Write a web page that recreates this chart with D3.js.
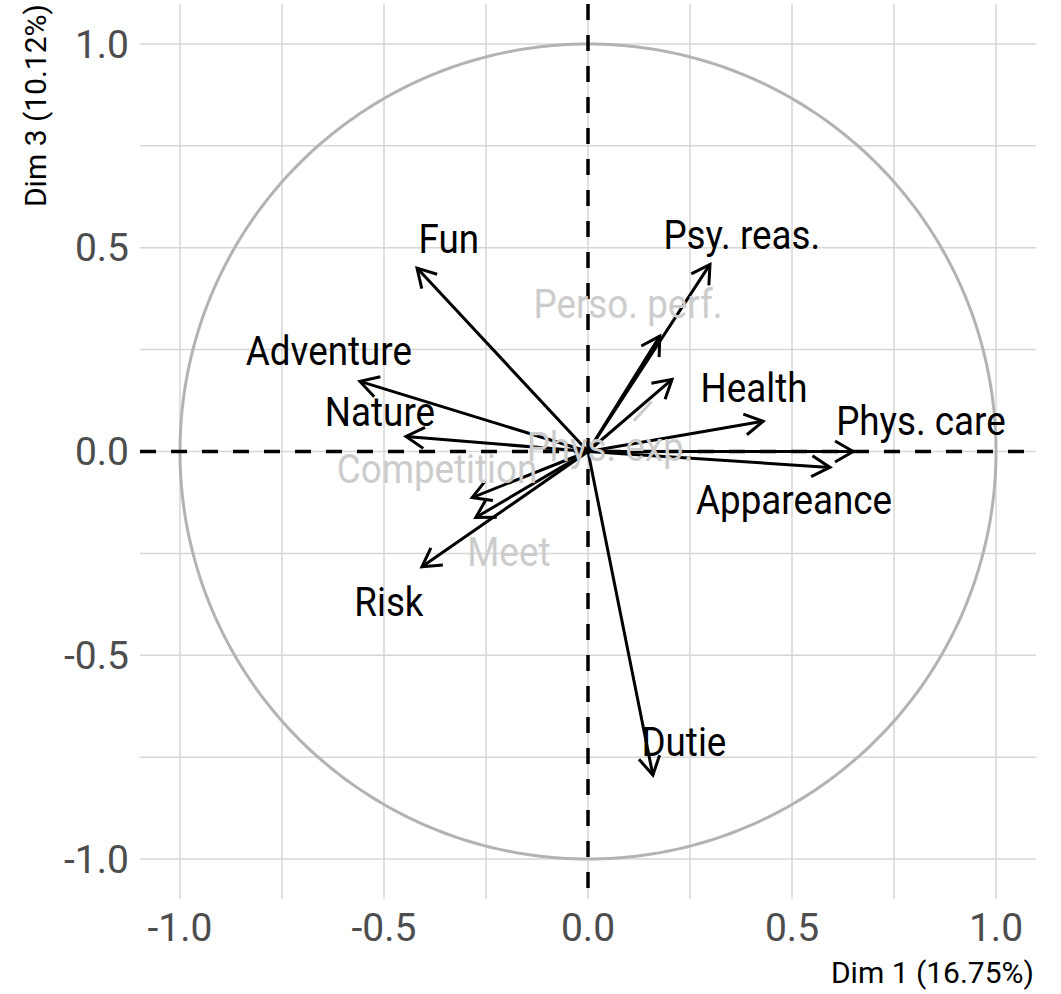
<!DOCTYPE html>
<html><head><meta charset="utf-8">
<script src="https://cdn.jsdelivr.net/npm/d3@7"></script>
<style>body{margin:0;background:#fff}svg{display:block}</style>
</head><body>
<script>
const variables = ["Fun","Psy. reas.","Perso. perf.","Health","Phys. care","Appareance","Adventure","Nature","Competition","Phys. exp.","Meet","Risk","Dutie"];
const dim1 = [-0.419, 0.299, 0.176, 0.429, 0.650, 0.593, -0.559, -0.446, -0.284, 0.206, -0.275, -0.407, 0.159];
const dim3 = [0.450, 0.459, 0.283, 0.074, 0.000, -0.039, 0.172, 0.037, -0.113, 0.177, -0.162, -0.283, -0.794];
const highlighted = [true, true, false, true, true, true, true, true, false, false, false, true, true];
const labelX = [-0.341, 0.377, 0.098, 0.407, 0.816, 0.505, -0.635, -0.510, -0.370, 0.054, -0.194, -0.488, 0.235];
const labelY = [0.521, 0.531, 0.361, 0.155, 0.076, -0.119, 0.246, 0.096, -0.042, 0.012, -0.246, -0.369, -0.713];
const labelSegment = [false,false,false,false,false,false,false,false,false,true,false,false,false];
const majorTicks = [-1.0, -0.5, 0.0, 0.5, 1.0];
const minorTicks = [-0.75, -0.25, 0.25, 0.75];
const xTitle = "Dim 1 (16.75%)";
const yTitle = "Dim 3 (10.12%)";

const W = 1061, H = 994;
const panel = {l: 140, r: 1036, t: 4, b: 899};
const lim = 1.098;
const x = d3.scaleLinear().domain([-lim, lim]).range([panel.l, panel.r]);
const y = d3.scaleLinear().domain([-lim, lim]).range([panel.b, panel.t]);

const svg = d3.select("body").append("svg").attr("width", W).attr("height", H);

// grid
const grid = svg.append("g");
const gridColor = "#d6d6d6";
majorTicks.concat(minorTicks).forEach(v => {
  grid.append("line").attr("x1", x(v)).attr("x2", x(v)).attr("y1", panel.t).attr("y2", panel.b)
    .attr("stroke", gridColor).attr("stroke-width", 1.5);
  grid.append("line").attr("y1", y(v)).attr("y2", y(v)).attr("x1", panel.l).attr("x2", panel.r)
    .attr("stroke", gridColor).attr("stroke-width", 1.5);
});

// circle
const circ = d3.range(0, 361).map(a => [Math.cos(a*Math.PI/180), Math.sin(a*Math.PI/180)]);
svg.append("path").attr("d", d3.line().x(d => x(d[0])).y(d => y(d[1]))(circ))
  .attr("fill", "none").attr("stroke", "#b3b3b3").attr("stroke-width", 3);

// dashed axes
svg.append("line").attr("x1", panel.l).attr("x2", panel.r).attr("y1", y(0)).attr("y2", y(0))
  .attr("stroke", "#000").attr("stroke-width", 3.5).attr("stroke-dasharray", "16,15");
svg.append("line").attr("y1", panel.t).attr("y2", panel.b).attr("x1", x(0)).attr("x2", x(0))
  .attr("stroke", "#000").attr("stroke-width", 3.5).attr("stroke-dasharray", "16,15");

// arrows
const arrows = svg.append("g");
const headLen = 21, headAng = Math.PI/6;
variables.forEach((v, i) => {
  const x0 = x(0), y0 = y(0), x1 = x(dim1[i]), y1 = y(dim3[i]);
  const ang = Math.atan2(y1 - y0, x1 - x0);
  arrows.append("line").attr("x1", x0).attr("y1", y0).attr("x2", x1).attr("y2", y1)
    .attr("stroke", "#000").attr("stroke-width", 3).attr("stroke-linecap", "butt");
  const a1 = [x1 - headLen*Math.cos(ang - headAng), y1 - headLen*Math.sin(ang - headAng)];
  const a2 = [x1 - headLen*Math.cos(ang + headAng), y1 - headLen*Math.sin(ang + headAng)];
  arrows.append("path").attr("d", `M${a1[0]},${a1[1]}L${x1},${y1}L${a2[0]},${a2[1]}`)
    .attr("fill", "none").attr("stroke", "#000").attr("stroke-width", 3)
    .attr("stroke-linejoin", "miter");
});

// labels
const labels = svg.append("g");
variables.forEach((v, i) => {
  const col = highlighted[i] ? "#000" : "#cccccc";
  const lx = x(labelX[i]), ly = y(labelY[i]);
  if (labelSegment[i]) {
    const tx = x(dim1[i]), ty = y(dim3[i]);
    const dx = tx - lx, dy = ty - ly, L = Math.hypot(dx, dy);
    const ux = dx / L, uy = dy / L;
    labels.append("line").attr("x1", lx + ux*35).attr("y1", ly + uy*35)
      .attr("x2", tx - ux*30).attr("y2", ty - uy*30)
      .attr("stroke", col).attr("stroke-width", 3);
  }
  labels.append("text")
    .attr("transform", `translate(${lx},${ly}) scale(0.92,1)`)
    .attr("text-anchor", "middle").attr("dy", "0.35em")
    .attr("font-family", "Roboto, sans-serif").attr("font-size", 40)
    .attr("fill", col).text(v);
});

// tick labels
const tickG = svg.append("g").attr("font-family", "Roboto, sans-serif").attr("font-size", 39).attr("fill", "#4d4d4d");
majorTicks.forEach(v => {
  tickG.append("text").attr("x", x(v)).attr("y", 941).attr("text-anchor", "middle")
    .text(d3.format(".1f")(v).replace("−", "-"));
  tickG.append("text").attr("x", 129).attr("y", y(v)).attr("dy", "0.35em").attr("text-anchor", "end")
    .text(d3.format(".1f")(v).replace("−", "-"));
});

// axis titles
svg.append("text").attr("transform", `translate(1034,983)`)
  .attr("text-anchor", "end").attr("font-family", "Roboto, sans-serif").attr("font-size", 30)
  .attr("fill", "#000").text(xTitle);
svg.append("text").attr("transform", `translate(46,4) rotate(-90)`)
  .attr("text-anchor", "end").attr("font-family", "Roboto, sans-serif").attr("font-size", 30)
  .attr("fill", "#000").text(yTitle);
</script>
</body></html>
